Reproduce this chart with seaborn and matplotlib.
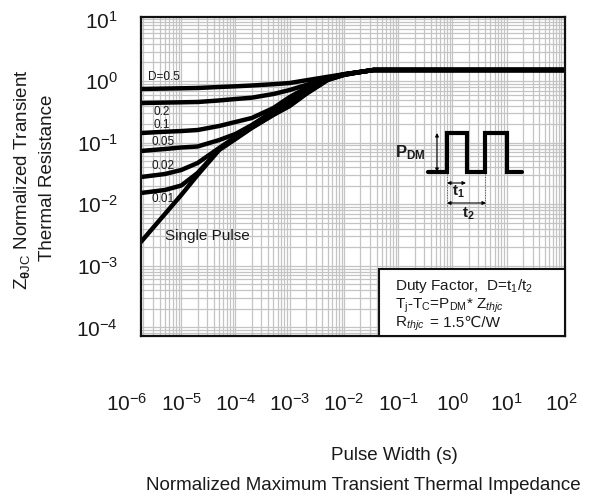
import numpy as np
import pandas as pd
import seaborn as sns
import matplotlib.pyplot as plt
from matplotlib.lines import Line2D
from matplotlib.patches import Rectangle
from matplotlib.ticker import LogLocator, NullFormatter
from matplotlib.transforms import blended_transform_factory

# --- data (pulse width in s, normalized Zth) ---
pulse_width = [1.8e-6, 5e-6, 1e-5, 2e-5, 5e-5, 1e-4, 2e-4, 5e-4,
               1e-3, 2e-3, 5e-3, 1e-2, 2e-2, 3.5e-2, 120]

z_d05 = [0.742, 0.753, 0.761, 0.770, 0.799, 0.820, 0.845, 0.887,
         0.928, 1.026, 1.170, 1.289, 1.405, 1.509, 1.509]
z_d02 = [0.439, 0.446, 0.451, 0.456, 0.483, 0.510, 0.536, 0.615,
         0.714, 0.861, 1.119, 1.285, 1.400, 1.509, 1.509]
z_d01 = [0.143, 0.150, 0.154, 0.160, 0.186, 0.216, 0.251, 0.364,
         0.550, 0.770, 1.098, 1.285, 1.400, 1.509, 1.509]
z_d005 = [0.0731, 0.0787, 0.0833, 0.0864, 0.110, 0.138, 0.193, 0.326,
          0.473, 0.714, 1.078, 1.275, 1.400, 1.509, 1.509]
z_d002 = [0.0276, 0.0309, 0.0359, 0.0466, 0.0817, 0.123, 0.186, 0.314,
          0.439, 0.663, 1.058, 1.275, 1.400, 1.509, 1.509]
z_d001 = [0.0152, 0.0170, 0.0201, 0.0321, 0.0773, 0.117, 0.176, 0.286,
          0.400, 0.627, 1.046, 1.261, 1.400, 1.509, 1.509]
z_single = [0.00243, 0.00693, 0.0141, 0.0298, 0.0759, 0.114, 0.173, 0.281,
            0.393, 0.615, 1.038, 1.251, 1.400, 1.509, 1.509]

curve_names = ['D=0.5', '0.2', '0.1', '0.05', '0.02', '0.01', 'Single Pulse']
curve_values = [z_d05, z_d02, z_d01, z_d005, z_d002, z_d001, z_single]

x_exponents = list(range(-6, 3))
y_ticks = [10.0 ** k for k in range(-4, 2)]

# long-form table for seaborn
df = pd.concat(
    [pd.DataFrame({'t': pulse_width, 'z': vals, 'curve': name})
     for name, vals in zip(curve_names, curve_values)],
    ignore_index=True)

sns.set_theme(style='white')
plt.rcParams['font.family'] = ['Liberation Sans', 'DejaVu Sans']
plt.rcParams['mathtext.fontset'] = 'custom'
plt.rcParams['mathtext.rm'] = 'Liberation Sans'
plt.rcParams['mathtext.it'] = 'Liberation Sans:italic'
plt.rcParams['mathtext.bf'] = 'Liberation Sans:bold'
plt.rcParams['axes.unicode_minus'] = False

W, H = 604, 497
fig = plt.figure(figsize=(W / 100, H / 100), dpi=100)
ax = fig.add_axes([141 / W, 1 - 336 / H, 424 / W, 319 / H])
ax.set_xscale('log')
ax.set_yscale('log')

sns.lineplot(data=df, x='t', y='z', hue='curve', units='curve', estimator=None,
             palette=['black'] * len(curve_names), legend=False, sort=False,
             linewidth=3.2, ax=ax)

ax.set_xticks([10.0 ** k for k in x_exponents])
ax.set_yticks(y_ticks)
ax.xaxis.set_minor_locator(LogLocator(base=10, subs=np.arange(2, 10), numticks=100))
ax.yaxis.set_minor_locator(LogLocator(base=10, subs=np.arange(2, 10), numticks=100))
ax.xaxis.set_minor_formatter(NullFormatter())
ax.yaxis.set_minor_formatter(NullFormatter())
# limits after the ticks, set_xticks would widen them otherwise
ax.set_xlim(10 ** -5.742, 10 ** 2.074)
ax.set_ylim(10 ** -4.140, 10 ** 1.039)
ax.tick_params(which='both', length=0)
ax.tick_params(axis='x', labelbottom=False)
ax.tick_params(axis='y', labelsize=15, pad=16.5, colors='#1a1a1a')
ax.set_xlabel('')
ax.set_ylabel('')
ax.grid(True, which='both', color='#c4c4c4', linewidth=0.9)
ax.set_axisbelow(True)
for s in ax.spines.values():
    s.set_color('#111111')
    s.set_linewidth(1.6)

# x tick labels sit far below the frame and the first one lies left of it
xlab_tr = blended_transform_factory(ax.transData, ax.transAxes)
for k in x_exponents:
    ax.text(10.0 ** k, -0.1787, r'$\mathdefault{10^{%d}}$' % k, transform=xlab_tr,
            ha='center', va='top', fontsize=15, color='#1a1a1a', clip_on=False)


def fp(x, y):
    # pixel position (from top-left) -> figure fraction
    return x / W, 1 - y / H


# axis titles
fig.text(*fp(394, 455), 'Pulse Width (s)', ha='center', va='center', fontsize=13.5, color='#1a1a1a')
fig.text(*fp(363, 485), 'Normalized Maximum Transient Thermal Impedance',
         ha='center', va='center', fontsize=13.5, color='#1a1a1a')
fig.text(*fp(22, 180), r'Z$_{\mathbf{θ}\mathrm{JC}}$ Normalized Transient', rotation=90,
         ha='center', va='center', fontsize=13.5, color='#1a1a1a')
fig.text(*fp(48, 178), 'Thermal Resistance', rotation=90,
         ha='center', va='center', fontsize=13.5, color='#1a1a1a')

# curve labels
label_pos = [(148, 77), (153, 112), (153, 125), (152, 142), (152, 166), (151, 199)]
for name, (px, py) in zip(curve_names[:-1], label_pos):
    fig.text(*fp(px, py), name, ha='left', va='center', fontsize=8.5, color='#1a1a1a')
fig.text(*fp(165, 236), curve_names[-1], ha='left', va='center', fontsize=11, color='#1a1a1a')

# pulse train sketch
pulse_x = [428, 447, 447, 467, 467, 485, 485, 507, 507, 522]
pulse_y = [172, 172, 133, 133, 172, 172, 133, 133, 172, 172]
fig.add_artist(Line2D([x / W for x in pulse_x], [1 - y / H for y in pulse_y],
                      transform=fig.transFigure, color='black', lw=3, solid_joinstyle='miter'))
for x in (447, 485):
    fig.add_artist(Line2D([x / W, x / W], [1 - 174 / H, 1 - 206 / H], transform=fig.transFigure,
                          color='#555555', lw=0.7, ls=':'))
arrow = dict(arrowstyle='<|-|>', color='black', lw=0.8, mutation_scale=5, shrinkA=0, shrinkB=0)
fig.add_artist(plt.Annotation('', xy=fp(437, 133), xytext=fp(437, 172),
                              xycoords='figure fraction', arrowprops=arrow))
fig.add_artist(plt.Annotation('', xy=fp(447, 183), xytext=fp(466, 183),
                              xycoords='figure fraction', arrowprops=arrow))
fig.add_artist(plt.Annotation('', xy=fp(447, 203), xytext=fp(486, 203),
                              xycoords='figure fraction', arrowprops=arrow))
fig.text(*fp(426, 153), r'P$_\mathbf{DM}$', ha='right', va='center', fontsize=12, fontweight='bold', color='#1a1a1a')
fig.text(*fp(458, 192), r't$_\mathbf{1}$', ha='center', va='center', fontsize=11, fontweight='bold', color='#1a1a1a')
fig.text(*fp(468, 214), r't$_\mathbf{2}$', ha='center', va='center', fontsize=11, fontweight='bold', color='#1a1a1a')

# info box
fig.add_artist(Rectangle(fp(379, 336), 186 / W, 67 / H, transform=fig.transFigure,
                         facecolor='white', edgecolor='#111111', lw=1.5))
fig.text(*fp(395, 290), r'Duty Factor,  D=t$_\mathrm{1}$/t$_\mathrm{2}$', va='baseline', fontsize=11, color='#1a1a1a')
fig.text(*fp(395, 309), r'T$_\mathrm{j}$-T$_\mathrm{C}$=P$_\mathrm{DM}$* Z$_{thjc}$', va='baseline', fontsize=11, color='#1a1a1a')
r_txt = fig.text(*fp(395, 327), r'R$_{thjc}$', va='baseline', fontsize=11, color='#1a1a1a')
bb = r_txt.get_window_extent(renderer=fig.canvas.get_renderer())
fig.text((bb.x1 + 5) / W, 1 - 327 / H, '= 1.5℃/W', va='baseline', fontsize=11, color='#1a1a1a',
         family=['Liberation Sans', 'DejaVu Sans', 'Noto Sans CJK SC'])

fig.savefig('out.png', dpi=100)
